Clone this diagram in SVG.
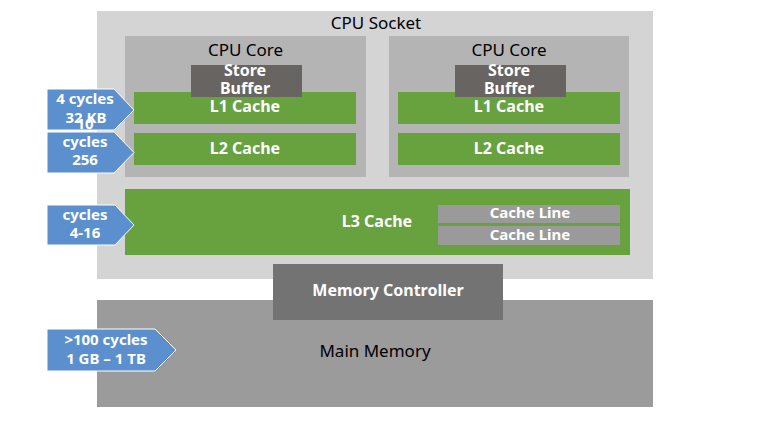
<svg xmlns="http://www.w3.org/2000/svg" width="764" height="448" viewBox="0 0 764 448">
<style>
text{font-family:"Noto Sans","DejaVu Sans",sans-serif;text-anchor:middle}
.blk{fill:#000;font-size:17px}
.wht{fill:#fff;font-size:15px;font-weight:bold}
.w16{fill:#fff;font-size:16px;font-weight:bold}
.green{fill:#67a23e}
.core{fill:#b4b4b4}
.sb{fill:#686462}
.arrow{fill:#5b8fce;stroke:#ffffff;stroke-width:1}
</style>
<rect width="764" height="448" fill="#ffffff"/>
<g id="cpu-socket">
<rect x="97" y="11" width="556" height="268" fill="#d4d4d4"/>
<text class="blk" x="376" y="28.5">CPU Socket</text>
</g>
<g id="main-memory">
<rect x="97" y="300" width="556" height="107" fill="#9b9b9b"/>
<text class="blk" x="375" y="356.5">Main Memory</text>
</g>
<g id="cpu-core-1">
<rect class="core" x="125" y="36" width="241" height="141"/>
<text class="blk" x="245.5" y="55.5">CPU Core</text>
</g>
<g id="cpu-core-2">
<rect class="core" x="389" y="36" width="240" height="141"/>
<text class="blk" x="509" y="55.5">CPU Core</text>
</g>
<g id="l1-cache-1">
<rect class="green" x="134" y="92" width="222" height="32"/>
<text class="w16" x="245" y="112">L1 Cache</text>
</g>
<g id="l2-cache-1">
<rect class="green" x="134" y="133" width="222" height="32"/>
<text class="w16" x="245" y="153.5">L2 Cache</text>
</g>
<g id="l1-cache-2">
<rect class="green" x="398" y="92" width="222" height="32"/>
<text class="w16" x="509" y="112">L1 Cache</text>
</g>
<g id="l2-cache-2">
<rect class="green" x="398" y="133" width="222" height="32"/>
<text class="w16" x="509" y="153.5">L2 Cache</text>
</g>
<g id="store-buffer-1">
<rect class="sb" x="191" y="65" width="111" height="32"/>
<text class="w16" x="245" y="76">Store</text>
<text class="w16" x="245" y="93.5">Buffer</text>
</g>
<g id="store-buffer-2">
<rect class="sb" x="455" y="65" width="111" height="32"/>
<text class="w16" x="509" y="76">Store</text>
<text class="w16" x="509" y="93.5">Buffer</text>
</g>
<g id="l3-cache">
<rect class="green" x="125" y="189" width="505" height="66"/>
<text class="w16" x="377" y="226.5">L3 Cache</text>
</g>
<g id="cache-line-1">
<rect x="438" y="205" width="182" height="18" fill="#9a9a9a"/>
<text class="wht" x="530" y="217.5">Cache Line</text>
</g>
<g id="cache-line-2">
<rect x="438" y="226" width="182" height="19" fill="#9a9a9a"/>
<text class="wht" x="530" y="239.5">Cache Line</text>
</g>
<g id="memory-controller">
<rect x="273" y="264" width="230" height="56" fill="#737373"/>
<text class="w16" x="388" y="296">Memory Controller</text>
</g>
<g id="label-l1">
<polygon class="arrow" points="47,89 114,89 134,110 114,130 47,130"/>
<text class="wht" x="85" y="104">4 cycles</text>
<text class="wht" x="86" y="123">32 KB</text>
</g>
<g id="label-l2">
<polygon class="arrow" points="47,132 114,132 134,152.5 114,173 47,173"/>
<text class="wht" x="85" y="128.5">10</text>
<text class="wht" x="85" y="146.5">cycles</text>
<text class="wht" x="85" y="164.5">256</text>
</g>
<g id="label-l3">
<polygon class="arrow" points="47,205 115,205 134,225 115,245 47,245"/>
<text class="wht" x="85" y="220">cycles</text>
<text class="wht" x="85" y="237.5">4-16</text>
</g>
<g id="label-memory">
<polygon class="arrow" points="47,329 155,329 176,350 155,371 47,371"/>
<text class="wht" x="106" y="345">&gt;100 cycles</text>
<text class="wht" x="106" y="364">1 GB – 1 TB</text>
</g>
<g id="connectors"></g>
</svg>
